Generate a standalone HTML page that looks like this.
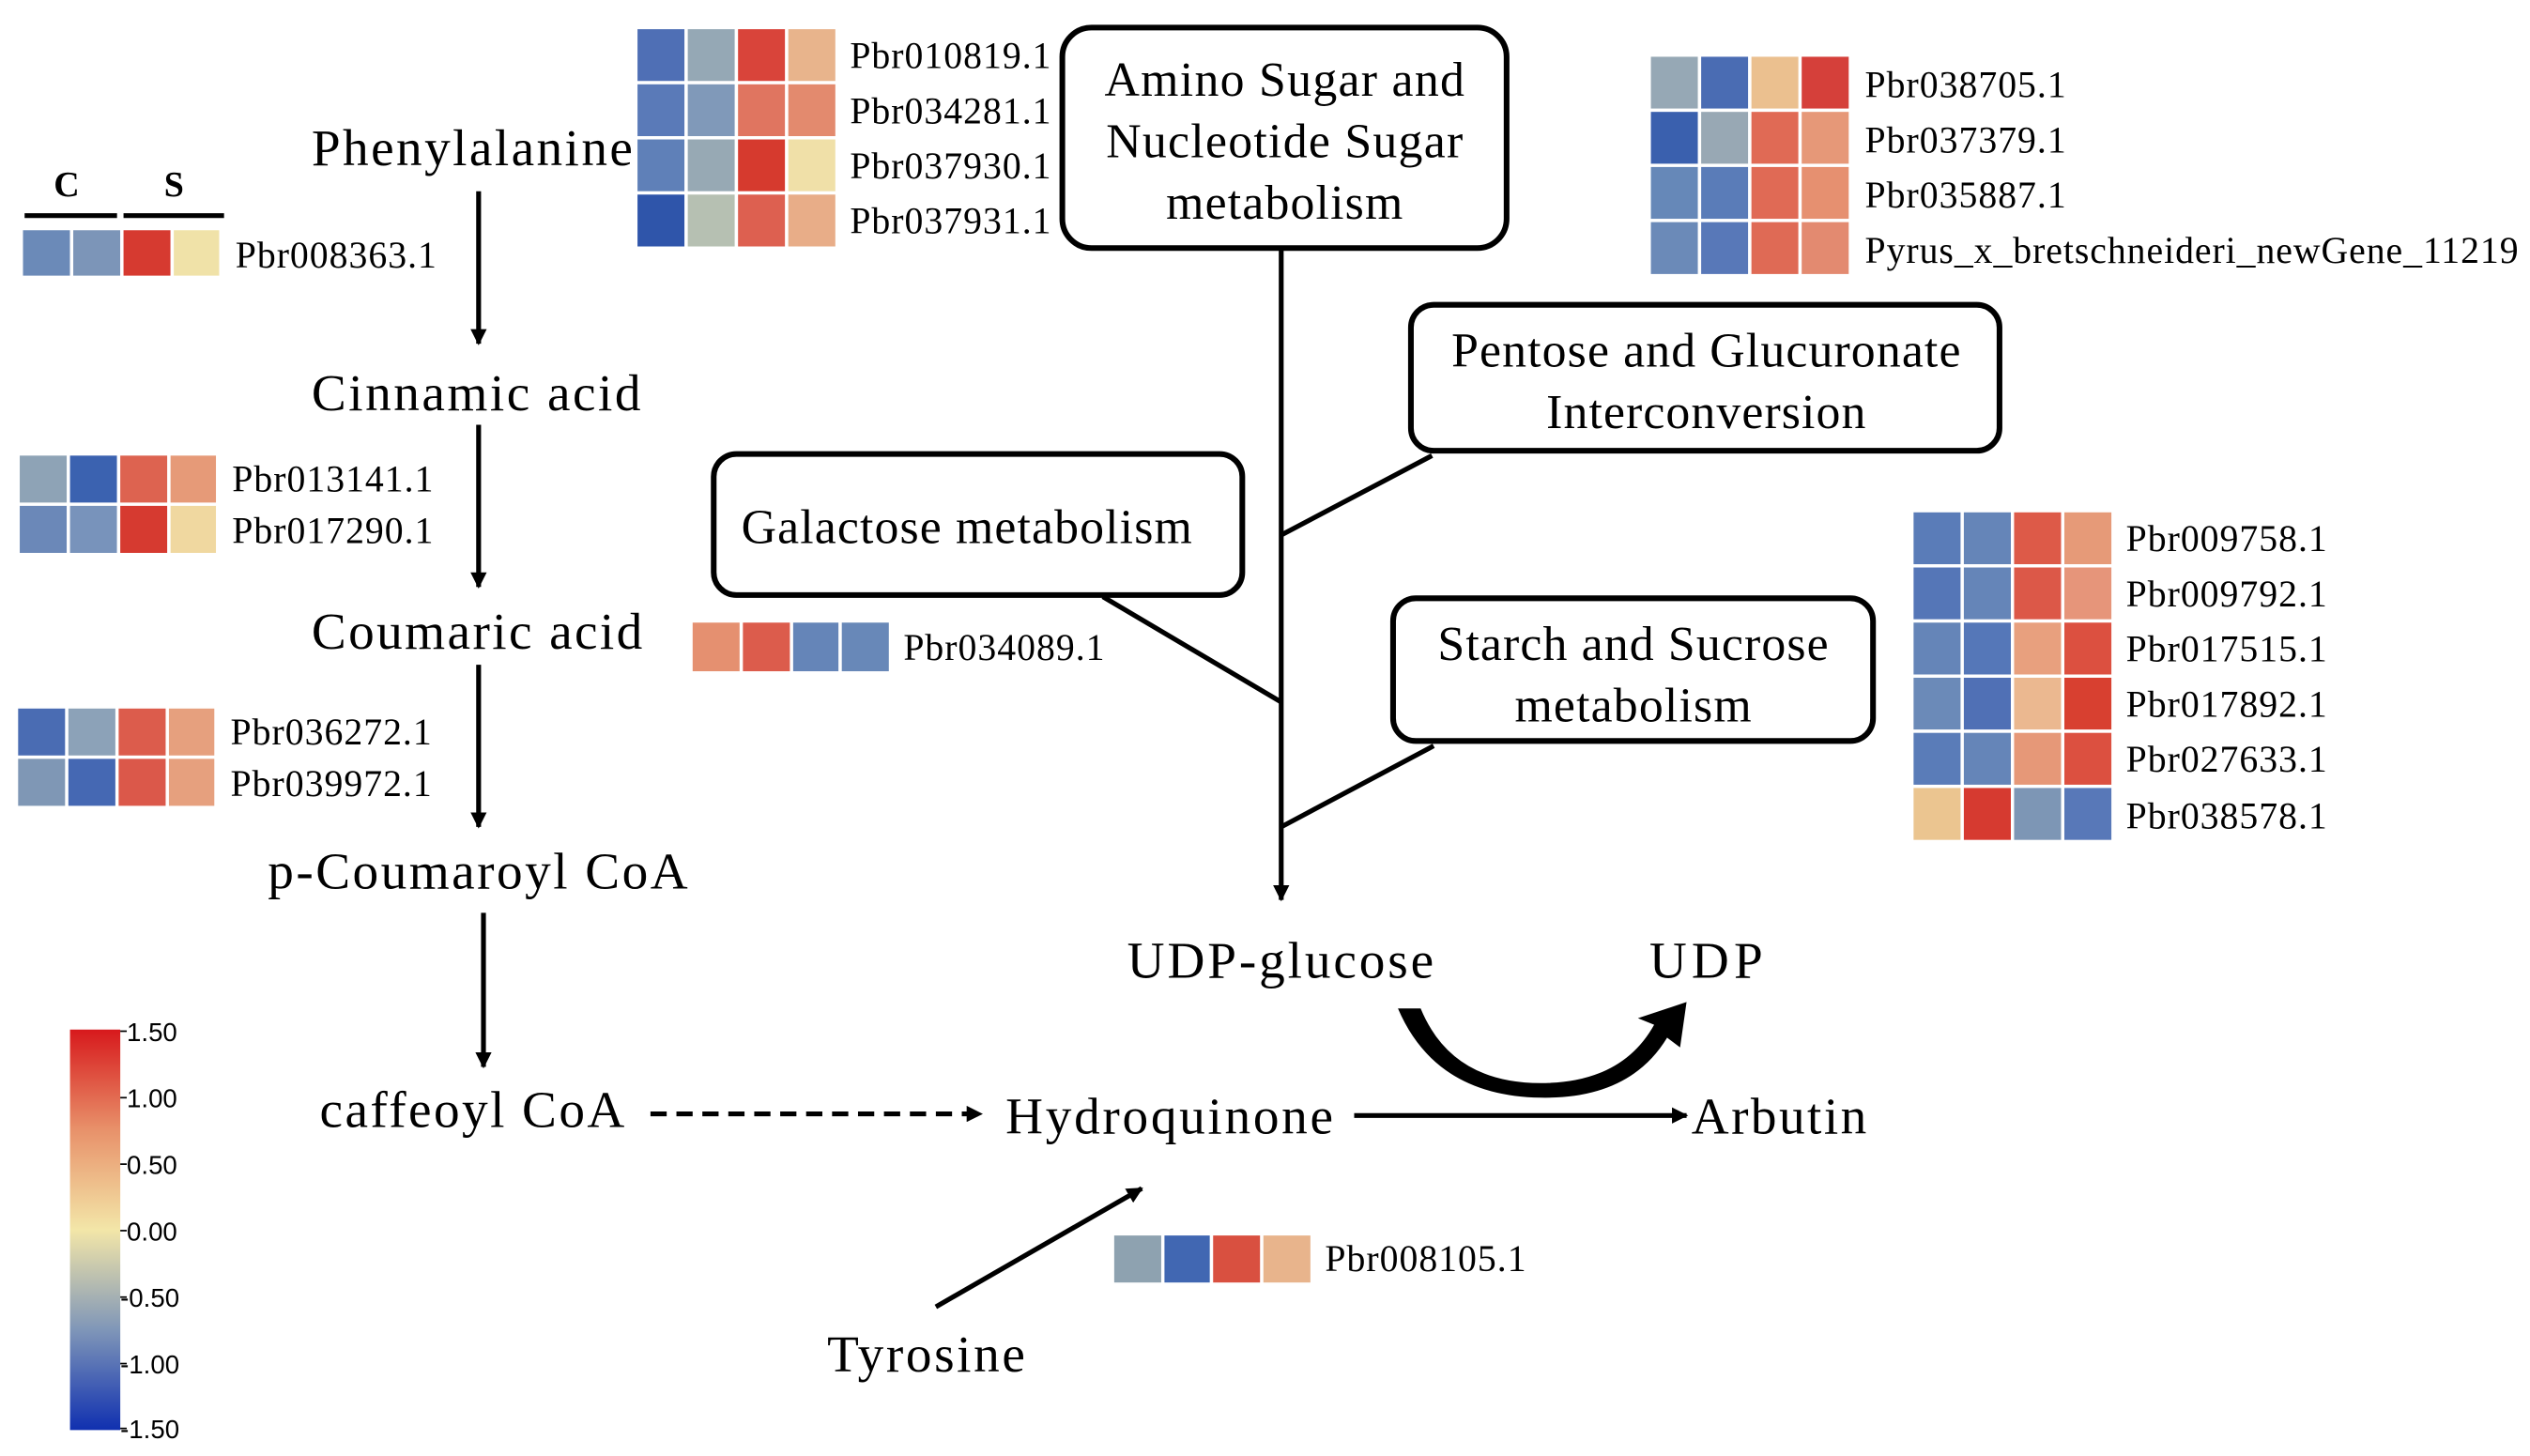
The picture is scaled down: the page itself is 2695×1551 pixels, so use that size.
<!DOCTYPE html>
<html><head><meta charset="utf-8"><style>html,body{margin:0;padding:0;background:#fff}svg{display:block}</style></head>
<body>
<svg width="2695" height="1551" viewBox="0 0 1560 898" xmlns="http://www.w3.org/2000/svg" font-family="'Liberation Serif', serif">
<defs>
<marker id="ah" markerWidth="10" markerHeight="10" refX="9" refY="5" orient="auto" markerUnits="userSpaceOnUse"><path d="M0,0 L10,5 L0,10 z" fill="#000"/></marker>
<linearGradient id="cb" x1="0" y1="0" x2="0" y2="1">
<stop offset="0" stop-color="#d7191c"/><stop offset="0.25" stop-color="#e8916a"/><stop offset="0.5" stop-color="#f3e6a8"/><stop offset="0.75" stop-color="#7f96b8"/><stop offset="1" stop-color="#1030b0"/></linearGradient>
</defs>
<g stroke="#fff" stroke-width="2">
<rect x="392" y="17" width="31" height="34" fill="#4f6fb5"/><rect x="423" y="17" width="31" height="34" fill="#95a8b5"/><rect x="454" y="17" width="31" height="34" fill="#d9443a"/><rect x="485" y="17" width="31" height="34" fill="#e8b48c"/>
<rect x="392" y="51" width="31" height="34" fill="#5a7ab8"/><rect x="423" y="51" width="31" height="34" fill="#8099b9"/><rect x="454" y="51" width="31" height="34" fill="#e07560"/><rect x="485" y="51" width="31" height="34" fill="#e38a6e"/>
<rect x="392" y="85" width="31" height="34" fill="#5f80b8"/><rect x="423" y="85" width="31" height="34" fill="#97a9b4"/><rect x="454" y="85" width="31" height="34" fill="#d63a2e"/><rect x="485" y="85" width="31" height="34" fill="#f0e0a8"/>
<rect x="392" y="119" width="31" height="34" fill="#2f55aa"/><rect x="423" y="119" width="31" height="34" fill="#b6c0b2"/><rect x="454" y="119" width="31" height="34" fill="#dd6050"/><rect x="485" y="119" width="31" height="34" fill="#e8ad88"/>
<rect x="13" y="141" width="31" height="30" fill="#6b8ab8"/><rect x="44" y="141" width="31" height="30" fill="#7c95b8"/><rect x="75" y="141" width="31" height="30" fill="#d63a30"/><rect x="106" y="141" width="30" height="30" fill="#f0e2a8"/>
<rect x="11" y="280" width="31" height="31" fill="#8ea3b6"/><rect x="42" y="280" width="31" height="31" fill="#3b62b0"/><rect x="73" y="280" width="31" height="31" fill="#dd6350"/><rect x="104" y="280" width="30" height="31" fill="#e69a78"/>
<rect x="11" y="311" width="31" height="31" fill="#6b88b8"/><rect x="42" y="311" width="31" height="31" fill="#7893bb"/><rect x="73" y="311" width="31" height="31" fill="#d63a30"/><rect x="104" y="311" width="30" height="31" fill="#f0d8a0"/>
<rect x="10" y="436" width="31" height="31" fill="#4a6cb3"/><rect x="41" y="436" width="31" height="31" fill="#8ca2b8"/><rect x="72" y="436" width="31" height="31" fill="#dc5c4c"/><rect x="103" y="436" width="30" height="31" fill="#e6a07e"/>
<rect x="10" y="467" width="31" height="31" fill="#7f97b5"/><rect x="41" y="467" width="31" height="31" fill="#4568b3"/><rect x="72" y="467" width="31" height="31" fill="#db584a"/><rect x="103" y="467" width="30" height="31" fill="#e6a07e"/>
<rect x="426" y="383" width="31" height="32" fill="#e59070"/><rect x="457" y="383" width="31" height="32" fill="#dc5c4c"/><rect x="488" y="383" width="30" height="32" fill="#6585b8"/><rect x="518" y="383" width="31" height="32" fill="#6888b8"/>
<rect x="686" y="761" width="31" height="31" fill="#8ea2b0"/><rect x="717" y="761" width="30" height="31" fill="#4167b2"/><rect x="747" y="761" width="31" height="31" fill="#d95040"/><rect x="778" y="761" width="31" height="31" fill="#e8b48c"/>
<rect x="1017" y="34" width="31" height="34" fill="#96a8b5"/><rect x="1048" y="34" width="31" height="34" fill="#4a6cb3"/><rect x="1079" y="34" width="31" height="34" fill="#ebc08f"/><rect x="1110" y="34" width="31" height="34" fill="#d5403a"/>
<rect x="1017" y="68" width="31" height="34" fill="#3a60ae"/><rect x="1048" y="68" width="31" height="34" fill="#98a8b4"/><rect x="1079" y="68" width="31" height="34" fill="#e06a55"/><rect x="1110" y="68" width="31" height="34" fill="#e69878"/>
<rect x="1017" y="102" width="31" height="34" fill="#6688b8"/><rect x="1048" y="102" width="31" height="34" fill="#5a7cb8"/><rect x="1079" y="102" width="31" height="34" fill="#e06a55"/><rect x="1110" y="102" width="31" height="34" fill="#e69070"/>
<rect x="1017" y="136" width="31" height="34" fill="#6b8ab8"/><rect x="1048" y="136" width="31" height="34" fill="#5878b8"/><rect x="1079" y="136" width="31" height="34" fill="#df6a55"/><rect x="1110" y="136" width="31" height="34" fill="#e38a70"/>
<rect x="1179" y="315" width="31" height="34" fill="#5a7cb8"/><rect x="1210" y="315" width="31" height="34" fill="#6585b8"/><rect x="1241" y="315" width="31" height="34" fill="#dd5a48"/><rect x="1272" y="315" width="31" height="34" fill="#e69a78"/>
<rect x="1179" y="349" width="31" height="34" fill="#5576b7"/><rect x="1210" y="349" width="31" height="34" fill="#6585b8"/><rect x="1241" y="349" width="31" height="34" fill="#dc5848"/><rect x="1272" y="349" width="31" height="34" fill="#e6957a"/>
<rect x="1179" y="383" width="31" height="34" fill="#6585b8"/><rect x="1210" y="383" width="31" height="34" fill="#5577b8"/><rect x="1241" y="383" width="31" height="34" fill="#e8a07e"/><rect x="1272" y="383" width="31" height="34" fill="#dc5040"/>
<rect x="1179" y="417" width="31" height="34" fill="#6b8ab8"/><rect x="1210" y="417" width="31" height="34" fill="#5070b5"/><rect x="1241" y="417" width="31" height="34" fill="#ebb890"/><rect x="1272" y="417" width="31" height="34" fill="#d84030"/>
<rect x="1179" y="451" width="31" height="34" fill="#5a7cb8"/><rect x="1210" y="451" width="31" height="34" fill="#6585b8"/><rect x="1241" y="451" width="31" height="34" fill="#e69878"/><rect x="1272" y="451" width="31" height="34" fill="#dc5040"/>
<rect x="1179" y="485" width="31" height="34" fill="#ebc590"/><rect x="1210" y="485" width="31" height="34" fill="#d63a30"/><rect x="1241" y="485" width="31" height="34" fill="#7d96b5"/><rect x="1272" y="485" width="31" height="34" fill="#5878b8"/>
</g>
<g font-size="23" fill="#000" lengthAdjust="spacingAndGlyphs">
<text x="524" y="42" textLength="124">Pbr010819.1</text><text x="524" y="76" textLength="124">Pbr034281.1</text><text x="524" y="110" textLength="124">Pbr037930.1</text><text x="524" y="144" textLength="124">Pbr037931.1</text>
<text x="145" y="165" textLength="124">Pbr008363.1</text>
<text x="143" y="303" textLength="124">Pbr013141.1</text><text x="143" y="335" textLength="124">Pbr017290.1</text>
<text x="142" y="459" textLength="124">Pbr036272.1</text><text x="142" y="491" textLength="124">Pbr039972.1</text>
<text x="557" y="407" textLength="124">Pbr034089.1</text>
<text x="817" y="784" textLength="124">Pbr008105.1</text>
<text x="1150" y="60" textLength="124">Pbr038705.1</text><text x="1150" y="94" textLength="124">Pbr037379.1</text><text x="1150" y="128" textLength="124">Pbr035887.1</text><text x="1150" y="162" textLength="403">Pyrus_x_bretschneideri_newGene_11219</text>
<text x="1311" y="340" textLength="124">Pbr009758.1</text><text x="1311" y="374" textLength="124">Pbr009792.1</text><text x="1311" y="408" textLength="124">Pbr017515.1</text><text x="1311" y="442" textLength="124">Pbr017892.1</text><text x="1311" y="476" textLength="124">Pbr027633.1</text><text x="1311" y="511" textLength="124">Pbr038578.1</text>
</g>
<g font-size="22" fill="#000"><text x="33" y="121" font-weight="bold">C</text><text x="101" y="121" font-weight="bold">S</text></g>
<g stroke="#000" stroke-width="3"><line x1="15" y1="133" x2="72" y2="133"/><line x1="76" y1="133" x2="138" y2="133"/></g>
<g font-size="32" fill="#000">
<text x="192" y="102" textLength="198">Phenylalanine</text>
<text x="192" y="253" textLength="203">Cinnamic acid</text>
<text x="192" y="400" textLength="204">Coumaric acid</text>
<text x="165" y="548" textLength="259">p-Coumaroyl CoA</text>
<text x="197" y="695" textLength="188">caffeoyl CoA</text>
<text x="620" y="699" textLength="202">Hydroquinone</text>
<text x="1043" y="699" textLength="108">Arbutin</text>
<text x="695" y="603" textLength="189">UDP-glucose</text>
<text x="1017" y="603" textLength="70">UDP</text>
<text x="510" y="846" textLength="122">Tyrosine</text>
</g>
<g fill="#fff" stroke="#000" stroke-width="3.5">
<rect x="655" y="17" width="274" height="136" rx="18"/>
<rect x="870" y="188" width="363" height="90" rx="14"/>
<rect x="440" y="280" width="326" height="87" rx="14"/>
<rect x="859" y="369" width="296" height="88" rx="14"/>
</g>
<g font-size="30" fill="#000" text-anchor="middle">
<text x="792" y="59" textLength="222">Amino Sugar and</text><text x="792" y="97" textLength="220">Nucleotide Sugar</text><text x="792" y="135" textLength="146">metabolism</text>
<text x="1052" y="226" textLength="314">Pentose and Glucuronate</text><text x="1052" y="264" textLength="197">Interconversion</text>
<text x="596" y="335" textLength="278">Galactose metabolism</text>
<text x="1007" y="407" textLength="241">Starch and Sucrose</text><text x="1007" y="445" textLength="146">metabolism</text>
</g>
<g stroke="#000" stroke-width="3" fill="none">
<line x1="295" y1="118" x2="295" y2="212" marker-end="url(#ah)"/>
<line x1="295" y1="262" x2="295" y2="362" marker-end="url(#ah)"/>
<line x1="295" y1="410" x2="295" y2="510" marker-end="url(#ah)"/>
<line x1="298" y1="563" x2="298" y2="658" marker-end="url(#ah)"/>
<line x1="401" y1="687" x2="605" y2="687" stroke-dasharray="10,6" marker-end="url(#ah)"/>
<line x1="835" y1="688" x2="1040" y2="688" marker-end="url(#ah)"/>
<line x1="577" y1="806" x2="704" y2="733" marker-end="url(#ah)"/>
<line x1="790" y1="153" x2="790" y2="555" marker-end="url(#ah)"/>
<line x1="790" y1="330" x2="883" y2="281"/>
<line x1="680" y1="368" x2="790" y2="433"/>
<line x1="790" y1="510" x2="884" y2="460"/>
</g>
<path d="M862,622 L876,622 Q895,668 950,668 Q1000,668 1020,632 L1010,628 L1040,618 L1036,646 L1028,640 Q1005,678 950,677 Q885,676 862,622 Z" fill="#000"/>
<rect x="43" y="635" width="31" height="247" fill="url(#cb)"/>
<g stroke="#000" stroke-width="1"><line x1="74" y1="636" x2="78" y2="636"/><line x1="74" y1="677" x2="78" y2="677"/><line x1="74" y1="718" x2="78" y2="718"/><line x1="74" y1="759" x2="78" y2="759"/><line x1="74" y1="800" x2="78" y2="800"/><line x1="74" y1="841" x2="78" y2="841"/><line x1="74" y1="881" x2="78" y2="881"/></g>
<g font-family="'Liberation Sans', sans-serif" font-size="16" fill="#000">
<text x="78" y="642">1.50</text><text x="78" y="683">1.00</text><text x="78" y="724">0.50</text><text x="78" y="765">0.00</text><text x="74" y="806">-0.50</text><text x="74" y="847">-1.00</text><text x="74" y="887">-1.50</text>
</g>
</svg>
</body></html>
